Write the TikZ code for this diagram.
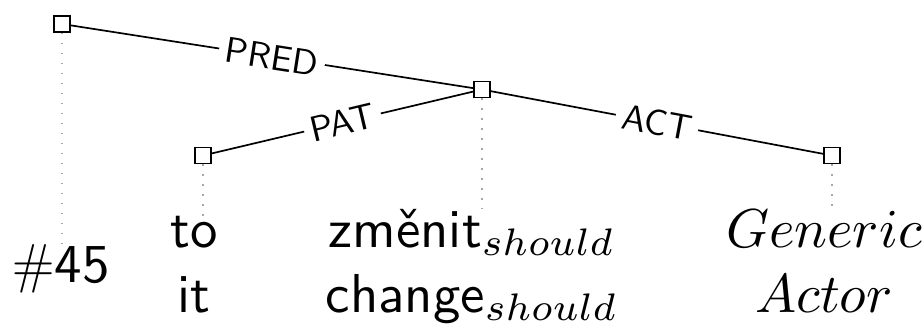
\RequirePackage{fix-cm}
\documentclass[tikz,border=0pt]{standalone}
\usepackage{fontspec}
\setsansfont{lmsans10-regular}[Extension=.otf]
\DeclareFontShape{OML}{cmm}{m}{it}{<-45>cmmi7 <45->cmmi10}{}
\DeclareFontShape{OT1}{cmr}{m}{n}{<-45>cmr7 <45->cmr10}{}
\begin{document}
\begin{tikzpicture}[x=1pt,y=-1pt,
  sq/.style={draw, line width=1.8pt, minimum size=16pt, inner sep=0pt, fill=white},
  edgeline/.style={line width=1.7pt},
  lab/.style={sloped, midway, fill=white, inner xsep=6.5pt, inner ysep=3pt, font=\fontsize{36}{42}\selectfont\sffamily},
  word/.style={align=center, inner sep=0pt, font=\fontsize{54.8}{64.5}\selectfont\sffamily},
  dots/.style={gray!70, line width=1.1pt, dash pattern=on 1.1pt off 8.9pt}]
\useasboundingbox (0,0) rectangle (924,325);
% tree nodes
\node[sq] (r) at (62,24) {};
\node[sq] (m) at (482,89.5) {};
\node[sq] (t) at (203,155.5) {};
\node[sq] (g) at (832,155.5) {};
% word nodes
\node[word, anchor=base] (wr) at (61,282) {$\#$45};
\node[word, anchor=base] (wt) at (194,312) {to\\it};
\node[word, anchor=base] (wm) at (471,312) {změnit$_{should}$\\change$_{should}$};
\node[word, anchor=base] (wg) at (824,312) {$Generic$\\$Actor$};
% dotted projections
\draw[dots] (r.south) -- (r |- wr.north);
\draw[dots] (t.south) -- (t |- wt.north);
\draw[dots] (m.south) -- (m |- wm.north);
\draw[dots] (g.south) -- (g |- wg.north);
% edges
\draw[edgeline] (r) -- node[lab] {PRED} (m);
\draw[edgeline] (t) -- node[lab] {PAT} (m);
\draw[edgeline] (m) -- node[lab] {ACT} (g);
\end{tikzpicture}
\end{document}
